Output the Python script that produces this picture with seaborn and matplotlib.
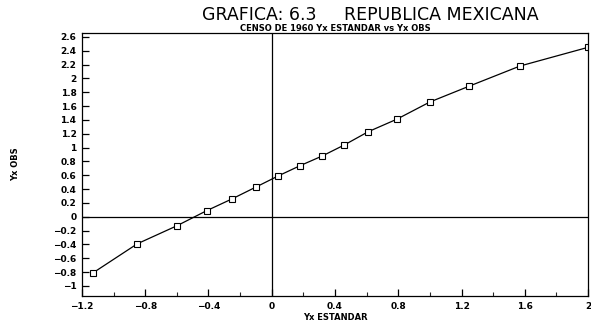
import matplotlib
matplotlib.use("Agg")
import matplotlib.pyplot as plt
import seaborn as sns
import pandas as pd
import numpy as np

yx_estandar = [-1.13, -0.85, -0.60, -0.41, -0.25, -0.10, 0.04, 0.18, 0.32, 0.46,
               0.61, 0.79, 1.00, 1.25, 1.57, 2.00]
yx_obs = [-0.81, -0.39, -0.13, 0.09, 0.26, 0.43, 0.59, 0.74, 0.88, 1.04,
          1.23, 1.41, 1.66, 1.89, 2.18, 2.45]
x_ticks = [-1.2, -0.8, -0.4, 0, 0.4, 0.8, 1.2, 1.6, 2]
x_ticklabels = ["\u22121.2", "\u22120.8", "\u22120.4", "0", "0.4", "0.8", "1.2", "1.6", "2"]
y_ticks = [round(-1 + 0.2 * i, 1) for i in range(19)]

sns.set_theme(style="white")
plt.rcParams['font.family'] = ['DejaVu Sans']
plt.rcParams['text.color'] = 'black'

df = pd.DataFrame({"x": yx_estandar, "y": yx_obs})

fig = plt.figure(figsize=(5.91, 3.23), dpi=100)
ax = fig.add_axes([0.1387, 0.0836, 0.8563, 0.8144])

sns.lineplot(data=df, x="x", y="y", ax=ax, color="black", linewidth=0.9,
             marker="s", markersize=5, markerfacecolor="white",
             markeredgecolor="black", markeredgewidth=0.8, sort=False)

ax.axhline(0, color="black", linewidth=0.9)
ax.axvline(0, color="black", linewidth=0.9)

ax.set_xlim(-1.2, 2)
ax.set_ylim(-1.145, 2.658)
ax.set_xticks(x_ticks)
ax.set_xticklabels(x_ticklabels)
ax.set_xticks([v + 0.2 for v in x_ticks[:-1]], minor=True)
ax.set_yticks(y_ticks)
ylabels = []
for v in y_ticks:
    s = ("%g" % v)
    ylabels.append(s.replace("-", "\u2212"))
ax.set_yticklabels(ylabels)

ax.tick_params(axis="both", which="major", direction="in", length=5, width=0.9,
               labelsize=6.5, colors="black", pad=4)
ax.tick_params(axis="x", which="minor", direction="in", length=3, width=0.8, bottom=True)
ax.tick_params(left=True, bottom=True)
for lbl in ax.get_xticklabels() + ax.get_yticklabels():
    lbl.set_fontweight("bold")

for sp in ax.spines.values():
    sp.set_color("black")
    sp.set_linewidth(0.9)

ax.set_xlabel("Yx ESTANDAR", fontsize=6, fontweight="bold", labelpad=2, color="black")
ax.set_ylabel("Yx OBS", fontsize=6, fontweight="bold", labelpad=24, color="black")

fig.text(0.627, 0.955, "GRAFICA: 6.3     REPUBLICA MEXICANA", ha="center", va="center",
         fontsize=12.5, fontweight="normal", color="black")
fig.text(0.567, 0.912, "CENSO DE 1960 Yx ESTANDAR vs Yx OBS", ha="center", va="center",
         fontsize=6, fontweight="bold", color="black")

fig.savefig("out.png", dpi=100)
